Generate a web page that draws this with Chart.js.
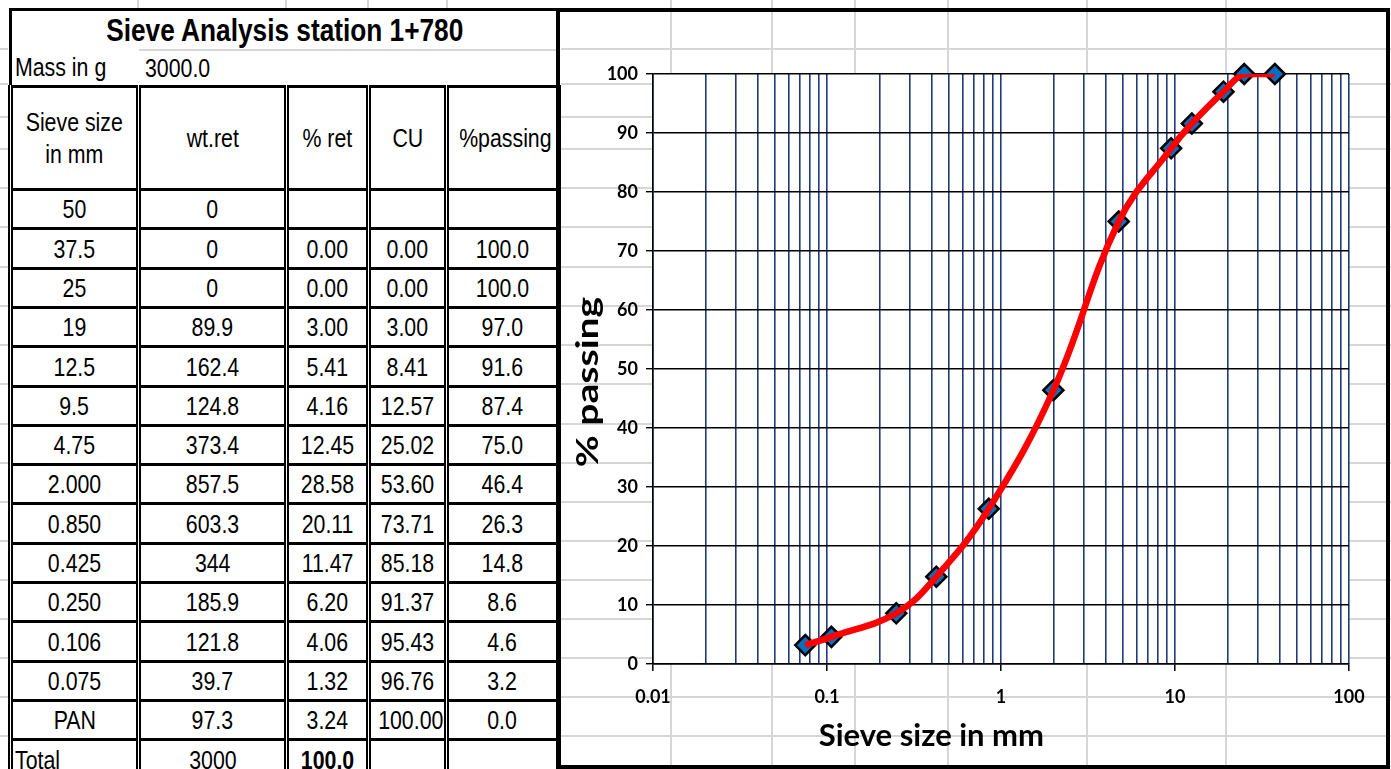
<!DOCTYPE html>
<html>
<head>
<meta charset="utf-8">
<title>Sieve Analysis station 1+780</title>
<script src="https://cdn.jsdelivr.net/npm/chart.js@4.4.1/dist/chart.umd.min.js"></script>
<style>
  html, body { margin: 0; padding: 0; width: 1391px; height: 769px; overflow: hidden; background: #fff; }
  .gl-h { position: absolute; left: 0; width: 1391px; height: 0; border-top: 2px solid #d6d6d6; }
  .gl-v { position: absolute; top: 0; height: 769px; width: 0; border-left: 2px solid #d6d6d6; }
  #sieveTable {
    position: absolute; left: 8px; top: 8px; width: 548px;
    border-collapse: collapse; table-layout: fixed;
    font-family: 'Liberation Sans', Arial, sans-serif;
    font-size: 26px; color: #000; background: #fff;
  }
  #sieveTable td {
    padding: 0; text-align: center; line-height: 1; white-space: nowrap; overflow: hidden;
    border-top: 3px solid #000; border-bottom: 3px solid #000;
    border-left: 5px double #000; border-right: 5px double #000;
  }
  /* condensed cell text */
  #sieveTable td span { display: inline-block; transform: scaleX(0.82); transform-origin: 50% 50%; }
  #sieveTable td.left span, #sieveTable td.massLbl span, #sieveTable td.massVal span { transform-origin: 0 50%; }
  #sieveTable td.head span { line-height: 1.24; }
  #sieveTable td.title { font-weight: bold; font-size: 32px; border-bottom: none; border-left: 3px solid #000; border-right: 3px solid #000; }
  #sieveTable td.massLbl { text-align: left; border-right: none; border-top: none; border-left: 3px solid #000; padding-left: 3px; }
  #sieveTable td.massVal { text-align: left; border-left: none; border-top: 2px solid #d6d6d6; border-right: 3px solid #000; padding-left: 6px; }
  #sieveTable td.left { text-align: left; padding-left: 2px; }
  #sieveTable td.bold { font-weight: bold; }
  #frame {
    position: absolute; left: 556px; top: 8px; width: 834px; height: 761px;
    box-sizing: border-box; border: 4px solid #000;
  }
  #chartBox { position: absolute; left: 0; top: 0; width: 826px; height: 753px; }
</style>
</head>
<body>
<div id="sheet"></div>
<table id="sieveTable">
  <colgroup>
    <col style="width:128px"><col style="width:148px"><col style="width:82px"><col style="width:78px"><col style="width:112px">
  </colgroup>
  <tbody id="tbody"></tbody>
</table>
<div id="frame"><div id="chartBox"><canvas id="chart"></canvas></div></div>

<script>
// Sieve analysis results, station 1+780
const stationTitle = 'Sieve Analysis station 1+780';
const massLabel = 'Mass in g';
const massValue = '3000.0';
const headers = ['Sieve size<br>in mm', 'wt.ret', '% ret', 'CU', '%passing'];

const sieveLabels = ['50', '37.5', '25', '19', '12.5', '9.5', '4.75', '2.000', '0.850', '0.425', '0.250', '0.106', '0.075', 'PAN'];
const sieveSizes  = [50, 37.5, 25, 19, 12.5, 9.5, 4.75, 2.0, 0.85, 0.425, 0.25, 0.106, 0.075, null];
const wtRetained  = ['0', '0', '0', '89.9', '162.4', '124.8', '373.4', '857.5', '603.3', '344', '185.9', '121.8', '39.7', '97.3'];
const pctRetained = ['', '0.00', '0.00', '3.00', '5.41', '4.16', '12.45', '28.58', '20.11', '11.47', '6.20', '4.06', '1.32', '3.24'];
const cumRetained = ['', '0.00', '0.00', '3.00', '8.41', '12.57', '25.02', '53.60', '73.71', '85.18', '91.37', '95.43', '96.76', '100.00'];
const pctPassing  = [null, 100.0, 100.0, 97.0, 91.6, 87.4, 75.0, 46.4, 26.3, 14.8, 8.6, 4.6, 3.2, 0.0];
const totalRow    = ['Total', '3000', '100.0', '', ''];

// Axis ticks and titles
const xTickValues = [0.01, 0.1, 1, 10, 100];
const xTickLabels = ['0.01', '0.1', '1', '10', '100'];
const yTickStep = 10;
const xTitle = 'Sieve size in mm';
const yTitle = '% passing';

// Worksheet cell boundaries behind the sheet content
const sheetRowLines = [49, 84, 117, 149, 188, 227, 267, 306, 345, 384, 424, 463, 502, 541, 580, 619, 658, 697, 736];
const sheetColLines = [138, 286, 368, 447, 671, 772, 855, 948, 1087, 1226];

(function drawSheetGrid() {
  const sheet = document.getElementById('sheet');
  sheetRowLines.forEach(y => {
    const d = document.createElement('div'); d.className = 'gl-h'; d.style.top = (y - 1) + 'px'; sheet.appendChild(d);
  });
  sheetColLines.forEach(x => {
    const d = document.createElement('div'); d.className = 'gl-v'; d.style.left = (x - 1) + 'px'; sheet.appendChild(d);
  });
})();

(function buildTable() {
  const tb = document.getElementById('tbody');
  const rowTop = i => Math.round(188 + 39.3 * i);
  const cell = (txt, cls) => `<td${cls ? ` class="${cls}"` : ''}>${txt === '' ? '' : `<span>${txt}</span>`}</td>`;
  let html = '';
  html += `<tr style="height:40px"><td class="title" colspan="5"><span>${stationTitle}</span></td></tr>`;
  html += `<tr style="height:37px">${cell(massLabel, 'massLbl')}<td class="massVal" colspan="4"><span>${massValue}</span></td></tr>`;
  html += `<tr style="height:103px">${headers.map(h => cell(h, 'head')).join('')}</tr>`;
  sieveLabels.forEach((lbl, i) => {
    const h = rowTop(i + 1) - rowTop(i);
    const pass = pctPassing[i] === null ? '' : pctPassing[i].toFixed(1);
    html += `<tr style="height:${h}px">${cell(lbl)}${cell(wtRetained[i])}${cell(pctRetained[i])}${cell(cumRetained[i])}${cell(pass)}</tr>`;
  });
  html += `<tr style="height:40px">${cell(totalRow[0], 'left')}${cell(totalRow[1])}${cell(totalRow[2], 'bold')}${cell(totalRow[3])}${cell(totalRow[4])}</tr>`;
  tb.innerHTML = html;
})();

// Grading curve points: sieves that have both a size and a passing value
const curvePoints = sieveSizes
  .map((s, i) => ({ x: s, y: pctPassing[i] }))
  .filter(p => p.x !== null && p.y !== null);

const isDecade = v => xTickValues.some(t => Math.abs(t - v) / t < 1e-6);

const plotBackground = {
  id: 'plotBackground',
  beforeDraw(chart) {
    const { ctx, chartArea: a } = chart;
    ctx.save();
    ctx.fillStyle = '#ffffff';
    ctx.fillRect(a.left, a.top, a.width, a.height);
    ctx.restore();
  }
};

const axisTitles = {
  id: 'axisTitles',
  afterDraw(chart) {
    const { ctx, chartArea: a } = chart;
    ctx.save();
    ctx.fillStyle = '#000';
    ctx.textAlign = 'center';
    ctx.textBaseline = 'middle';
    ctx.font = 'bold 31px Lato';
    ctx.fillText(xTitle, a.left + a.width * 0.4, a.bottom + 72);
    ctx.translate(28, (a.top + a.bottom) / 2 + 13);
    ctx.rotate(-Math.PI / 2);
    ctx.scale(1.26, 1);
    ctx.fillText(yTitle, 0, 0);
    ctx.restore();
  }
};

const tickFont = { family: 'Lato', weight: 'bold', size: 18 };

new Chart(document.getElementById('chart'), {
  type: 'line',
  data: {
    datasets: [
      {
        data: curvePoints,
        borderColor: '#ff0000',
        borderWidth: 6.5,
        tension: 0.4,
        pointRadius: 0,
        pointHoverRadius: 0,
        fill: false,
        clip: { left: 10, top: 0, right: 10, bottom: 10 }
      },
      {
        data: curvePoints,
        showLine: false,
        pointStyle: 'rectRot',
        pointRadius: 10,
        pointHoverRadius: 10,
        pointBackgroundColor: '#0070c0',
        pointBorderColor: '#000',
        pointBorderWidth: 2.5,
        clip: false
      }
    ]
  },
  options: {
    responsive: true,
    maintainAspectRatio: false,
    animation: false,
    events: [],
    layout: { padding: { top: 62, right: 37, left: 0, bottom: 0 } },
    plugins: { legend: { display: false }, tooltip: { enabled: false }, title: { display: false } },
    scales: {
      x: {
        type: 'logarithmic',
        position: 'bottom',
        min: 0.01,
        max: 100,
        afterBuildTicks(scale) {
          // keep the 1..9 × 10^n grid only
          scale.ticks = scale.ticks.filter(t => {
            const m = t.value / Math.pow(10, Math.floor(Math.log10(t.value) + 1e-9));
            return Math.abs(m - 1.5) > 1e-6;
          });
        },
        afterFit(scale) { scale.height = 101; },
        ticks: {
          autoSkip: false, maxRotation: 0, minRotation: 0, padding: 15,
          color: '#000', font: tickFont,
          callback: v => {
            const i = xTickValues.findIndex(t => Math.abs(t - v) / t < 1e-6);
            return i >= 0 ? xTickLabels[i] : '';
          }
        },
        grid: {
          color: '#1f3b78', lineWidth: 1.6, tickLength: 7, tickWidth: 1.5,
          tickColor: ctx => (ctx.tick && isDecade(ctx.tick.value)) ? '#000' : 'rgba(0,0,0,0)'
        },
        border: { color: '#000', width: 1.5 }
      },
      y: {
        type: 'linear',
        min: 0,
        max: 100,
        afterFit(scale) { scale.width = 93; },
        ticks: { stepSize: yTickStep, padding: 8, color: '#000', font: tickFont },
        grid: { color: '#000', lineWidth: 1.4, tickLength: 7, tickColor: '#000', tickWidth: 1.4 },
        border: { color: '#000', width: 1.5 }
      }
    }
  },
  plugins: [plotBackground, axisTitles]
});
</script>
</body>
</html>
